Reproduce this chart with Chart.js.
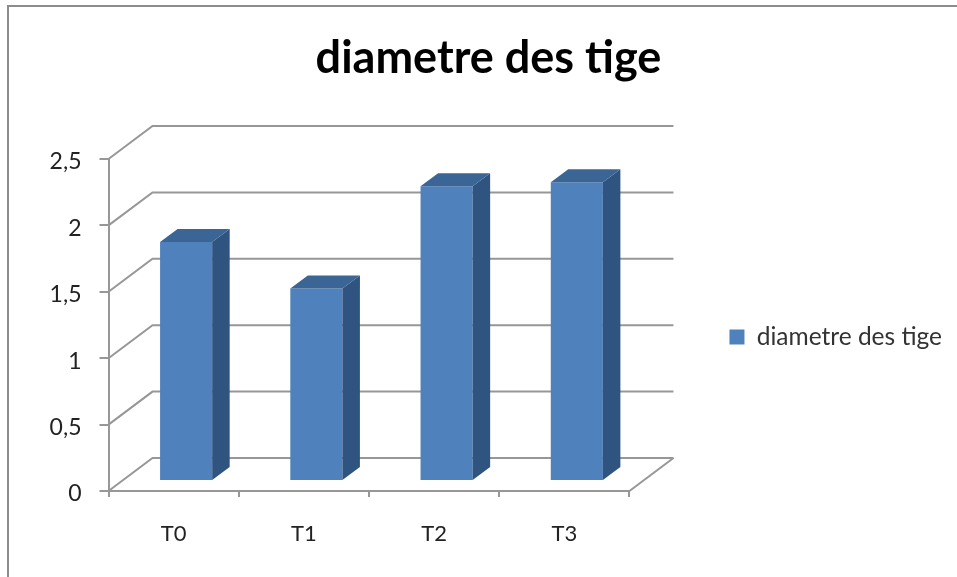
<!DOCTYPE html>
<html>
<head>
<meta charset="utf-8">
<title>diametre des tige</title>
<script src="https://cdn.jsdelivr.net/npm/chart.js@4"></script>
<style>
  html, body { margin: 0; padding: 0; background: #fff; }
  #frame { position: absolute; left: 7px; top: 5px; right: 0; bottom: 0; border-left: 2px solid #8c8c8c; border-top: 2px solid #8c8c8c; }
  canvas { position: absolute; left: 0; top: 0; }
</style>
</head>
<body>
<div id="frame"></div>
<canvas id="tigeChart" width="957" height="577"></canvas>
<script>
const categories = ['T0', 'T1', 'T2', 'T3'];
const diametre = [1.8, 1.45, 2.22, 2.25];
const yTickLabels = ['0', '0,5', '1', '1,5', '2', '2,5'];

const gridColor = '#979797';

// Fake 3D look: back walls + side and top faces of the bars
const walls3d = {
  id: 'walls3d',
  afterLayout(chart) {
    // nudge the legend to where the original has it
    chart.legend.top += 12;
    chart.legend.bottom += 12;
    chart.legend.left += 10;
    chart.legend.right += 10;
  },
  beforeDatasetsDraw(chart) {
    const { ctx, scales: { x, y } } = chart;
    const wall = { dx: 44, dy: -33 };
    ctx.save();
    ctx.strokeStyle = gridColor;
    ctx.lineWidth = 2;
    y.ticks.forEach(t => {
      const py = y.getPixelForValue(t.value);
      ctx.beginPath();
      ctx.moveTo(x.left, py);
      ctx.lineTo(x.left + wall.dx, py + wall.dy);
      ctx.lineTo(x.right + wall.dx, py + wall.dy);
      ctx.stroke();
    });
    ctx.beginPath();
    ctx.moveTo(x.right, y.bottom);
    ctx.lineTo(x.right + wall.dx, y.bottom + wall.dy);
    ctx.stroke();
    ctx.restore();
  },
  beforeDatasetDraw(chart) {
    chart.ctx.save();
    chart.ctx.translate(12.5, -10);
  },
  afterDatasetDraw(chart, args) {
    const ctx = chart.ctx;
    const dx = 17.5, dy = -13;
    args.meta.data.forEach(bar => {
      const l = bar.x - bar.width / 2, r = bar.x + bar.width / 2;
      ctx.fillStyle = '#2f5480';
      ctx.beginPath();
      ctx.moveTo(r, bar.y);
      ctx.lineTo(r + dx, bar.y + dy);
      ctx.lineTo(r + dx, bar.base + dy);
      ctx.lineTo(r, bar.base);
      ctx.closePath();
      ctx.fill();
      ctx.fillStyle = '#3a6595';
      ctx.beginPath();
      ctx.moveTo(l, bar.y);
      ctx.lineTo(l + dx, bar.y + dy);
      ctx.lineTo(r + dx, bar.y + dy);
      ctx.lineTo(r, bar.y);
      ctx.closePath();
      ctx.fill();
    });
    ctx.restore();
  }
};

new Chart(document.getElementById('tigeChart'), {
  type: 'bar',
  data: {
    labels: categories,
    datasets: [{
      label: 'diametre des tige',
      data: diametre,
      backgroundColor: '#4f81bd',
      barPercentage: 0.4,
      categoryPercentage: 1,
      clip: false
    }]
  },
  plugins: [walls3d],
  options: {
    responsive: false,
    animation: false,
    layout: { padding: { left: 35, right: 15, top: 0, bottom: 22 } },
    plugins: {
      title: {
        display: true,
        text: 'diametre des tige',
        color: '#000',
        font: { family: 'Lato', size: 45, weight: 'bold' },
        padding: { top: 31, bottom: 74 }
      },
      legend: {
        position: 'right',
        fullSize: false,
        maxWidth: 260,
        labels: {
          boxWidth: 15,
          boxHeight: 15,
          padding: 22,
          color: '#333',
          font: { family: 'Lato', size: 24.5 }
        }
      },
      tooltip: { enabled: false }
    },
    scales: {
      x: {
        grid: { drawOnChartArea: false, tickLength: 6, color: gridColor, lineWidth: 2 },
        border: { color: gridColor, width: 2 },
        ticks: { color: '#222', padding: 24, font: { family: 'Lato', size: 22 } },
        afterFit(s) { s.height = 64; }
      },
      y: {
        min: 0,
        max: 2.5,
        grid: { drawOnChartArea: false, tickLength: 9, color: gridColor, lineWidth: 2 },
        border: { color: gridColor, width: 2 },
        ticks: {
          stepSize: 0.5,
          color: '#222',
          padding: 18,
          labelOffset: 3,
          font: { family: 'Lato', size: 23 },
          callback: (v, i) => yTickLabels[i]
        },
        afterFit(s) { s.width = 73.5; }
      },
      // empty right axis, only keeps room for the 3D depth before the legend
      depth: {
        position: 'right',
        grid: { display: false },
        border: { display: false },
        ticks: { display: false },
        afterFit(s) { s.width = 68; }
      }
    }
  }
});
</script>
</body>
</html>
